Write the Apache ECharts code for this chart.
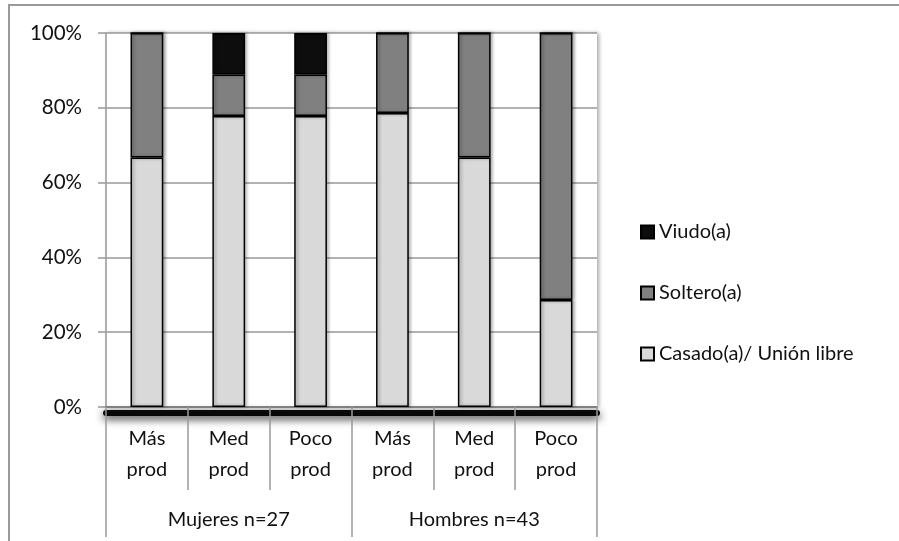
<!DOCTYPE html>
<html>
<head>
<meta charset="utf-8">
<script src="https://cdn.jsdelivr.net/npm/echarts@6/dist/echarts.min.js"></script>
<style>
  html, body { margin: 0; padding: 0; background: #fff; }
  #chart { width: 899px; height: 541px; }
</style>
</head>
<body>
<div id="chart"></div>
<script>
// Productivity level within each sex group
const categories = ['Más\nprod', 'Med\nprod', 'Poco\nprod', 'Más\nprod', 'Med\nprod', 'Poco\nprod'];
const groups = ['Mujeres n=27', 'Hombres n=43'];

// Share of producers by marital status (%)
const casado = [66.7, 77.8, 77.8, 78.6, 66.7, 28.6];
const soltero = [33.3, 11.1, 11.1, 21.4, 33.3, 71.4];
const viudo = [0, 11.1, 11.1, 0, 0, 0];

const yTicks = [0, 20, 40, 60, 80, 100];

const FONT = 'Lato, "Open Sans", sans-serif';
const TXT = '#111';

const chart = echarts.init(document.getElementById('chart'), null, { renderer: 'canvas' });

function barSeries(name, data, color) {
  return {
    name: name,
    type: 'bar',
    stack: 'total',
    xAxisIndex: 0,
    barWidth: '40%',
    data: data,
    z: 3,
    itemStyle: {
      color: color,
      borderColor: '#000',
      borderWidth: 1.5,
      shadowColor: 'rgba(0,0,0,0.3)',
      shadowBlur: 3,
      shadowOffsetX: 2
    }
  };
}

chart.setOption({
  animation: false,
  backgroundColor: '#fff',
  textStyle: { fontFamily: FONT },
  grid: {
    left: 106, right: 302, top: 33, bottom: 134,
    show: true, borderWidth: 0, backgroundColor: '#fff',
    shadowColor: 'rgba(0,0,0,0.35)', shadowBlur: 4, shadowOffsetX: 2
  },
  graphic: [{
    type: 'rect',
    shape: { x: 9, y: 5, width: 1000, height: 1000 },
    style: { fill: 'none', stroke: '#999', lineWidth: 2 },
    silent: true, z: -1
  }],
  legend: {
    orient: 'vertical',
    left: 635, top: 217,
    icon: 'rect',
    itemWidth: 13, itemHeight: 13,
    itemGap: 41,
    data: ['Viudo(a)', 'Soltero(a)', 'Casado(a)/ Unión libre'],
    textStyle: { fontFamily: FONT, fontSize: 20, color: TXT, lineHeight: 20 }
  },
  xAxis: [{
    type: 'category',
    data: categories,
    position: 'bottom',
    z: 2,
    axisLine: { show: true, lineStyle: { color: '#808080', width: 2 } },
    axisTick: { show: true, interval: 0, length: 83, lineStyle: { color: '#999', width: 1.5 } },
    axisLabel: {
      interval: 0, margin: 16,
      fontFamily: FONT, fontSize: 20, color: TXT, lineHeight: 31
    }
  }, {
    type: 'category',
    data: groups,
    position: 'bottom',
    z: 2,
    axisLine: { show: false },
    axisTick: { show: true, interval: 0, length: 130, lineStyle: { color: '#999', width: 1.5 } },
    axisLabel: {
      interval: 0, margin: 101,
      fontFamily: FONT, fontSize: 20, color: TXT, lineHeight: 24
    }
  }, {
    // dark drop shadow under the floor of the plot
    type: 'category',
    data: categories,
    position: 'bottom',
    offset: 6,
    z: 1,
    axisLine: {
      show: true,
      lineStyle: {
        color: 'rgba(0,0,0,0.95)', width: 6,
        shadowColor: 'rgba(0,0,0,0.9)', shadowBlur: 8, shadowOffsetY: 3
      }
    },
    axisTick: { show: false },
    axisLabel: { show: false }
  }],
  yAxis: {
    type: 'value',
    min: yTicks[0], max: yTicks[yTicks.length - 1], interval: 20,
    axisLine: { show: true, lineStyle: { color: '#999', width: 1.5 } },
    axisTick: { show: true, length: 8, lineStyle: { color: '#999', width: 1.5 } },
    splitLine: { show: true, lineStyle: { color: '#999', width: 1.5 } },
    axisLabel: {
      margin: 24,
      fontFamily: FONT, fontSize: 20.5, color: TXT,
      formatter: v => v + '%'
    }
  },
  series: [
    barSeries('Casado(a)/ Unión libre', casado, '#d9d9d9'),
    barSeries('Soltero(a)', soltero, '#808080'),
    barSeries('Viudo(a)', viudo, '#0d0d0d')
  ]
});
</script>
</body>
</html>
